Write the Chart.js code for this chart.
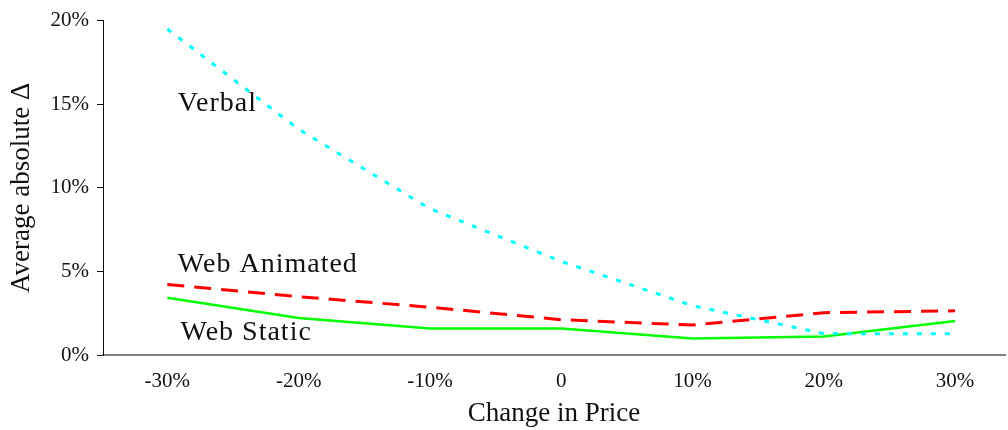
<!DOCTYPE html>
<html>
<head>
<meta charset="utf-8">
<script src="https://cdn.jsdelivr.net/npm/chart.js@4"></script>
<style>
  html, body { margin: 0; padding: 0; background: #fff; }
  #wrap { width: 1008px; height: 430px; }
</style>
</head>
<body>
<div id="wrap"><canvas id="priceChart" width="1008" height="430"></canvas></div>
<script>
const priceSteps = [-30, -20, -10, 0, 10, 20, 30];
const tickNames = ["-30%", "-20%", "-10%", "0", "10%", "20%", "30%"];
const verbal = [19.5, 13.5, 8.75, 5.6, 2.95, 1.28, 1.27];
const webAnimated = [4.22, 3.49, 2.86, 2.11, 1.79, 2.53, 2.64];
const webStatic = [3.43, 2.21, 1.58, 1.58, 0.98, 1.1, 2.03];

const FONT = "'Liberation Serif', 'DejaVu Serif', serif";

function pts(vals) {
  return priceSteps.map((x, i) => ({ x: x, y: vals[i] }));
}

// series names written inside the plot, next to their lines
const lineLabels = {
  id: 'lineLabels',
  afterDatasetsDraw(chart) {
    const c = chart.ctx;
    const xs = chart.scales.x, ys = chart.scales.y;
    c.save();
    c.fillStyle = '#111';
    c.font = "28px " + FONT;
    c.letterSpacing = '1px';
    c.textBaseline = 'alphabetic';
    c.fillText('Verbal', xs.getPixelForValue(-29.2), ys.getPixelForValue(14.6));
    c.fillText('Web Animated', xs.getPixelForValue(-29.2), ys.getPixelForValue(4.95));
    c.fillText('Web Static', xs.getPixelForValue(-29), ys.getPixelForValue(0.9));
    c.restore();
  }
};

const ctx = document.getElementById('priceChart').getContext('2d');

const chart = new Chart(ctx, {
  type: 'line',
  data: {
    datasets: [{
      label: 'Verbal',
      data: pts(verbal),
      borderColor: '#00ffff',
      borderWidth: 3,
      borderDash: [5, 9],
      pointRadius: 0,
      fill: false
    }, {
      label: 'Web Animated',
      data: pts(webAnimated),
      borderColor: '#ff0000',
      borderWidth: 3,
      borderDash: [17, 10],
      pointRadius: 0,
      fill: false
    }, {
      label: 'Web Static',
      data: pts(webStatic),
      borderColor: '#00ff00',
      borderWidth: 2.5,
      pointRadius: 0,
      fill: false
    }]
  },
  options: {
    responsive: false,
    animation: false,
    layout: { padding: { top: 17, right: 3, left: 0, bottom: 0 } },
    scales: {
      x: {
        type: 'linear',
        min: -34.9,
        max: 33.8,
        afterBuildTicks: (s) => { s.ticks = priceSteps.map(v => ({ value: v })); },
        afterFit: (s) => { s.height = 75; },
        grid: { display: false, drawTicks: false },
        border: { color: '#808080', width: 2 },
        ticks: {
          color: '#111',
          padding: 14,
          maxRotation: 0,
          font: { family: FONT, size: 21 },
          callback: (v) => tickNames[priceSteps.indexOf(v)]
        },
        title: {
          display: true,
          text: 'Change in Price',
          color: '#111',
          font: { family: FONT, size: 27 },
          padding: { top: 2, bottom: 0 }
        }
      },
      y: {
        min: 0,
        max: 20,
        afterFit: (s) => { s.width = 103; },
        grid: { display: true, drawOnChartArea: false, drawTicks: true, tickLength: 6, color: '#111' },
        border: { color: '#111', width: 1 },
        ticks: {
          stepSize: 5,
          color: '#111',
          padding: 8,
          font: { family: FONT, size: 21 },
          callback: (v) => v + '%'
        },
        title: {
          display: true,
          text: 'Average absolute Δ',
          color: '#111',
          font: { family: FONT, size: 27 },
          padding: { top: 6, bottom: 0 }
        }
      }
    },
    plugins: {
      legend: { display: false },
      tooltip: { enabled: false }
    }
  },
  plugins: [lineLabels]
});
</script>
</body>
</html>
